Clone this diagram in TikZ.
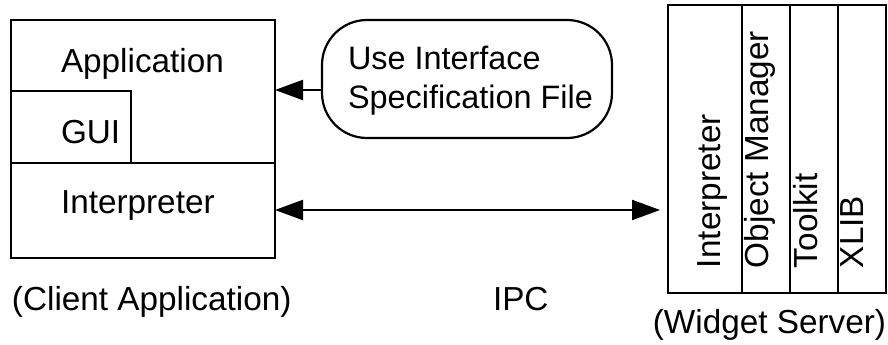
\documentclass[tikz,border=0pt]{standalone}
\usepackage{fontspec}
\setmainfont{Liberation Sans}
\usetikzlibrary{arrows.meta}
\tikzset{
  box/.style={draw, line width=2.2pt, inner sep=0pt, outer sep=0pt},
  lbl/.style={inner sep=0pt, outer sep=0pt, font=\fontsize{33.3}{40}\selectfont},
  slbl/.style={lbl, font=\fontsize{32.4}{40}\selectfont},
  conn/.style={line width=2.2pt},
  bigtip/.tip={Triangle[length=28pt,width=20pt]}
}
\begin{document}
\begin{tikzpicture}[x=1pt,y=-1pt]
\useasboundingbox (0,0) rectangle (888,345);
% client application
\node[box, anchor=north west, minimum width=264pt, minimum height=238pt] (client) at (11,20) {};
\node[box, anchor=north west, minimum width=120pt, minimum height=72pt] (gui) at (11,91) {};
\draw[conn] (client.west |- gui.south) -- (client.east |- gui.south);
\node[lbl, anchor=base west] (app) at (61,72) {Application};
\node[lbl, anchor=base west] (guit) at (61,143) {GUI};
\node[lbl, anchor=base west] (interp) at (61,213) {Interpreter};
% specification file
\node[box, rounded corners=45pt, anchor=north west, minimum width=290pt, minimum height=118pt] (spec) at (322,20) {};
\node[slbl, anchor=base west] (spec1) at (348,70) {Use Interface};
\node[slbl, anchor=base west] (spec2) at (348,108) {Specification File};
% widget server
\node[box, anchor=north west, minimum width=74pt, minimum height=288pt] (s1) at (668,5) {};
\node[box, anchor=north west, minimum width=48pt, minimum height=288pt] (s2) at (742,5) {};
\node[box, anchor=north west, minimum width=48pt, minimum height=288pt] (s3) at (790,5) {};
\node[box, anchor=north west, minimum width=48pt, minimum height=288pt] (s4) at (838,5) {};
\node[lbl, rotate=90, anchor=base west] (t1) at (720,268) {Interpreter};
\node[lbl, rotate=90, anchor=base west] (t2) at (768,268) {Object Manager};
\node[lbl, rotate=90, anchor=base west] (t3) at (817,268) {Toolkit};
\node[lbl, rotate=90, anchor=base west] (t4) at (863,268) {XLIB};
% captions
\node[lbl, anchor=base west] (capc) at (12,310) {(Client Application)};
\node[lbl, anchor=base west] (capi) at (493,310) {IPC};
\node[lbl, anchor=base east] (caps) at (886,333) {(Widget Server)};
% connectors
\coordinate (specout) at ([yshift=-11pt]spec.west);
\draw[conn, -bigtip] (specout) -- (client.east |- specout);
\coordinate (ipcy) at (0,210);
\coordinate (ipcR) at ([xshift=-8pt]s1.west |- ipcy);
\draw[conn, bigtip-bigtip] (client.east |- ipcy) -- (ipcR);
\end{tikzpicture}
\end{document}
